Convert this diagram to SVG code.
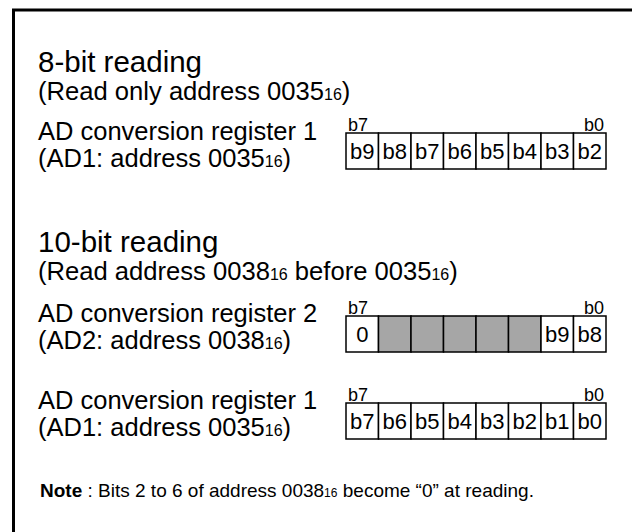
<svg xmlns="http://www.w3.org/2000/svg" width="632" height="532" viewBox="0 0 632 532">
<style>
text{font-family:"Liberation Sans",Arial,sans-serif;fill:#000}
.h{font-size:29.5px}
.p{font-size:25.6px}
.r{font-size:25.5px}
.s{font-size:16px}
.lbl{font-size:18px}
.c{font-size:22px;text-anchor:middle}
.cell{fill:#fff;stroke:#000;stroke-width:1.5}
.g{fill:#a6a6a6;stroke:#000;stroke-width:1.5}
.note{font-size:19px}
</style>
<rect x="0" y="0" width="632" height="532" fill="#fff"/>
<g id="frame"><path d="M13.5 532 V10 H632" fill="none" stroke="#000" stroke-width="3"/></g>

<g id="sec8">
<text class="h" x="38" y="72">8-bit reading</text>
<text class="p" x="38" y="100">(Read only address 0035<tspan class="s">16</tspan>)</text>
</g>
<g id="reg1a">
<text class="r" x="38" y="140">AD conversion register 1</text>
<text class="r" x="38" y="167">(AD1: address 0035<tspan class="s">16</tspan>)</text>
<text class="lbl" x="348" y="131">b7</text>
<text class="lbl" x="604" y="131" text-anchor="end">b0</text>
<rect class="cell" x="346" y="133" width="32.5" height="36"/>
<rect class="cell" x="378.5" y="133" width="32.5" height="36"/>
<rect class="cell" x="411" y="133" width="32.5" height="36"/>
<rect class="cell" x="443.5" y="133" width="32.5" height="36"/>
<rect class="cell" x="476" y="133" width="32.5" height="36"/>
<rect class="cell" x="508.5" y="133" width="32.5" height="36"/>
<rect class="cell" x="541" y="133" width="32.5" height="36"/>
<rect class="cell" x="573.5" y="133" width="32.5" height="36"/>
<text class="c" x="362.25" y="159">b9</text>
<text class="c" x="394.75" y="159">b8</text>
<text class="c" x="427.25" y="159">b7</text>
<text class="c" x="459.75" y="159">b6</text>
<text class="c" x="492.25" y="159">b5</text>
<text class="c" x="524.75" y="159">b4</text>
<text class="c" x="557.25" y="159">b3</text>
<text class="c" x="589.75" y="159">b2</text>
</g>

<g id="sec10">
<text class="h" x="38" y="252">10-bit reading</text>
<text class="p" x="38" y="280">(Read address 0038<tspan class="s">16</tspan> before 0035<tspan class="s">16</tspan>)</text>
</g>
<g id="reg2">
<text class="r" x="38" y="322">AD conversion register 2</text>
<text class="r" x="38" y="349">(AD2: address 0038<tspan class="s">16</tspan>)</text>
<text class="lbl" x="348" y="314">b7</text>
<text class="lbl" x="604" y="314" text-anchor="end">b0</text>
<rect class="cell" x="346" y="316" width="32.5" height="36"/>
<rect class="g" x="378.5" y="316" width="32.5" height="36"/>
<rect class="g" x="411" y="316" width="32.5" height="36"/>
<rect class="g" x="443.5" y="316" width="32.5" height="36"/>
<rect class="g" x="476" y="316" width="32.5" height="36"/>
<rect class="g" x="508.5" y="316" width="32.5" height="36"/>
<rect class="cell" x="541" y="316" width="32.5" height="36"/>
<rect class="cell" x="573.5" y="316" width="32.5" height="36"/>
<text class="c" x="362.25" y="342">0</text>
<text class="c" x="557.25" y="342">b9</text>
<text class="c" x="589.75" y="342">b8</text>
</g>
<g id="reg1b">
<text class="r" x="38" y="409">AD conversion register 1</text>
<text class="r" x="38" y="436">(AD1: address 0035<tspan class="s">16</tspan>)</text>
<text class="lbl" x="348" y="401">b7</text>
<text class="lbl" x="604" y="401" text-anchor="end">b0</text>
<rect class="cell" x="346" y="403" width="32.5" height="36"/>
<rect class="cell" x="378.5" y="403" width="32.5" height="36"/>
<rect class="cell" x="411" y="403" width="32.5" height="36"/>
<rect class="cell" x="443.5" y="403" width="32.5" height="36"/>
<rect class="cell" x="476" y="403" width="32.5" height="36"/>
<rect class="cell" x="508.5" y="403" width="32.5" height="36"/>
<rect class="cell" x="541" y="403" width="32.5" height="36"/>
<rect class="cell" x="573.5" y="403" width="32.5" height="36"/>
<text class="c" x="362.25" y="429">b7</text>
<text class="c" x="394.75" y="429">b6</text>
<text class="c" x="427.25" y="429">b5</text>
<text class="c" x="459.75" y="429">b4</text>
<text class="c" x="492.25" y="429">b3</text>
<text class="c" x="524.75" y="429">b2</text>
<text class="c" x="557.25" y="429">b1</text>
<text class="c" x="589.75" y="429">b0</text>
</g>

<g id="note">
<text class="note" x="40" y="497"><tspan font-weight="bold">Note</tspan> : Bits 2 to 6 of address 0038<tspan font-size="12">16</tspan> become “0” at reading.</text>
</g>
</svg>
